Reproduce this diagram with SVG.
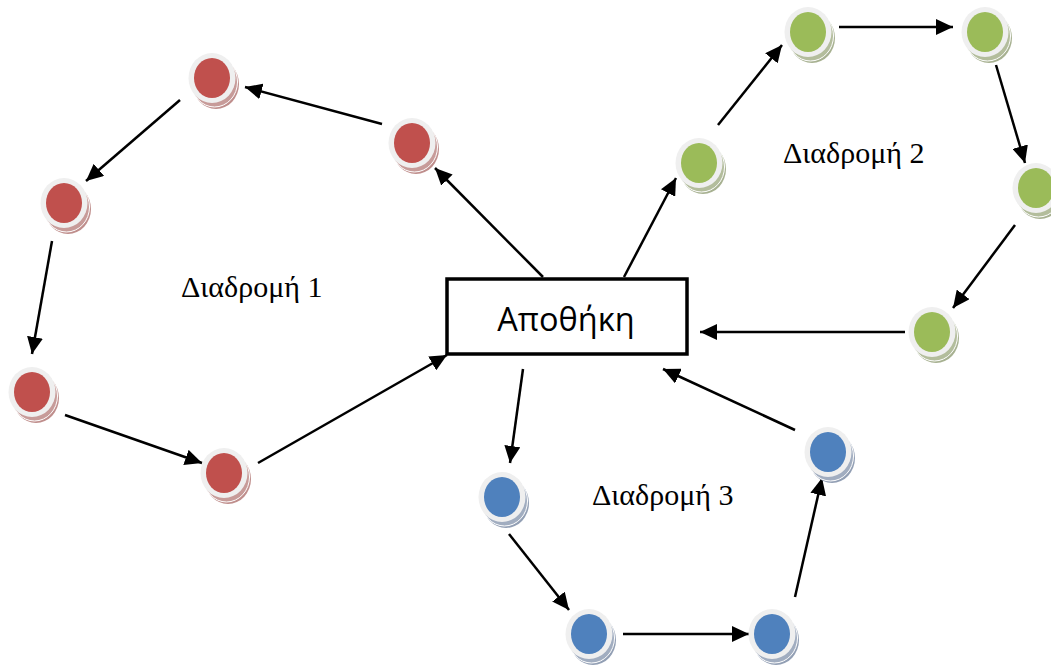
<svg xmlns="http://www.w3.org/2000/svg" xmlns:xlink="http://www.w3.org/1999/xlink" width="1051" height="666" viewBox="0 0 1051 666">
<style>
.edge{stroke:#000;stroke-width:2.5;fill:none;marker-end:url(#arr)}
.ring{fill:#efefef}
.lbl{font-family:"Liberation Serif","Times New Roman",serif;font-size:30px;fill:#000}
.box{fill:#fff;stroke:#000;stroke-width:3.5}
.boxt{font-family:"Open Sans","Noto Sans",sans-serif;font-size:32.5px;fill:#000}
</style>
<defs>
<marker id="arr" markerUnits="userSpaceOnUse" markerWidth="18" markerHeight="16" refX="17" refY="8" orient="auto">
<path d="M0,0 L17,8 L0,16 z" fill="#000"/>
</marker>
<g id="nr">
<ellipse cx="4" cy="6" rx="23" ry="25" fill="#bf8e8c"/>
<ellipse cx="2.5" cy="4" rx="23" ry="25" fill="#c79b99" stroke="#fff" stroke-width="1"/>
<ellipse cx="0" cy="0" rx="23.5" ry="25" class="ring"/>
<ellipse cx="0" cy="0" rx="18" ry="20" fill="#c0504d"/>
</g>
<g id="ng">
<ellipse cx="4" cy="6" rx="23" ry="25" fill="#a7b191"/>
<ellipse cx="2.5" cy="4" rx="23" ry="25" fill="#b3bd9c" stroke="#fff" stroke-width="1"/>
<ellipse cx="0" cy="0" rx="23.5" ry="25" class="ring"/>
<ellipse cx="0" cy="0" rx="18" ry="20" fill="#9bbb59"/>
</g>
<g id="nb">
<ellipse cx="4" cy="6" rx="23" ry="25" fill="#929fb4"/>
<ellipse cx="2.5" cy="4" rx="23" ry="25" fill="#a1adc0" stroke="#fff" stroke-width="1"/>
<ellipse cx="0" cy="0" rx="23.5" ry="25" class="ring"/>
<ellipse cx="0" cy="0" rx="18" ry="20" fill="#4f81bd"/>
</g>
</defs>
<rect width="1051" height="666" fill="#fff"/>
<g id="connectors">
<line class="edge" x1="543" y1="277" x2="435" y2="168"/>
<line class="edge" x1="382" y1="124" x2="245" y2="87"/>
<line class="edge" x1="180" y1="100" x2="86" y2="181"/>
<line class="edge" x1="52" y1="241" x2="32" y2="354"/>
<line class="edge" x1="65" y1="415" x2="202" y2="463"/>
<line class="edge" x1="258" y1="463" x2="447" y2="355"/>
<line class="edge" x1="624" y1="277" x2="676" y2="178"/>
<line class="edge" x1="718" y1="125" x2="782" y2="45"/>
<line class="edge" x1="839" y1="27" x2="953" y2="27"/>
<line class="edge" x1="996" y1="65" x2="1025" y2="163"/>
<line class="edge" x1="1015" y1="225" x2="953" y2="308"/>
<line class="edge" x1="905" y1="332" x2="700" y2="332"/>
<line class="edge" x1="523" y1="369" x2="510" y2="463"/>
<line class="edge" x1="509" y1="534" x2="569" y2="610"/>
<line class="edge" x1="623" y1="634" x2="749" y2="634"/>
<line class="edge" x1="795" y1="597" x2="822" y2="478"/>
<line class="edge" x1="795" y1="430" x2="663" y2="369"/>
</g>
<g id="depot">
<rect class="box" x="447" y="279" width="240" height="75"/>
<text class="boxt" x="566" y="331" text-anchor="middle">Αποθήκη</text>
</g>
<g id="r1"><use xlink:href="#nr" x="212" y="78"/></g>
<g id="r2"><use xlink:href="#nr" x="412" y="143"/></g>
<g id="r3"><use xlink:href="#nr" x="64" y="203"/></g>
<g id="r4"><use xlink:href="#nr" x="32" y="392"/></g>
<g id="r5"><use xlink:href="#nr" x="224" y="473"/></g>
<g id="g1"><use xlink:href="#ng" x="808" y="32"/></g>
<g id="g2"><use xlink:href="#ng" x="985" y="32"/></g>
<g id="g3"><use xlink:href="#ng" x="1036" y="188"/></g>
<g id="g4"><use xlink:href="#ng" x="932" y="332"/></g>
<g id="g5"><use xlink:href="#ng" x="699" y="163"/></g>
<g id="b1"><use xlink:href="#nb" x="828" y="452"/></g>
<g id="b2"><use xlink:href="#nb" x="502" y="497"/></g>
<g id="b3"><use xlink:href="#nb" x="589" y="634"/></g>
<g id="b4"><use xlink:href="#nb" x="772" y="634"/></g>
<g id="labels">
<text class="lbl" x="181" y="297">Διαδρομή 1</text>
<text class="lbl" x="783" y="163">Διαδρομή 2</text>
<text class="lbl" x="592" y="505">Διαδρομή 3</text>
</g>
</svg>
